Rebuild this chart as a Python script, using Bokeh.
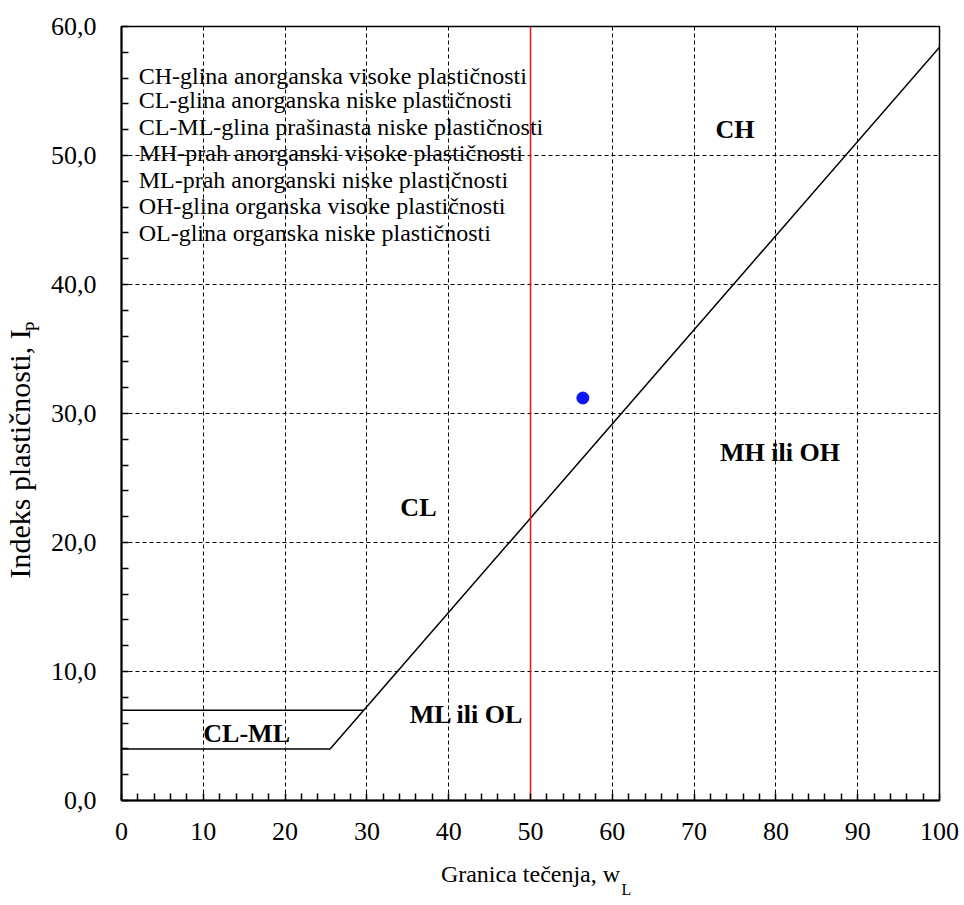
from bokeh.plotting import figure
from bokeh.models import FixedTicker, ColumnDataSource, Title
from bokeh.core.properties import value
from bokeh.embed import file_html
from bokeh.resources import INLINE

# ---- data ----
x_ticks = [0, 10, 20, 30, 40, 50, 60, 70, 80, 90, 100]
y_ticks = [0, 10, 20, 30, 40, 50, 60]
y_tick_labels = ["0,0", "10,0", "20,0", "30,0", "40,0", "50,0", "60,0"]

a_line_x = [25.5, 100]
a_line_y = [4.0, 58.4]
clml_low_x = [0, 25.5]
clml_low_y = [4.0, 4.0]
clml_up_x = [0, 29.6]
clml_up_y = [7.0, 7.0]
wl50_x = [50, 50]
wl50_y = [0, 60]

sample_wl = [56.4]
sample_ip = [31.2]

zone_names = ["CH", "MH ili OH", "CL", "ML ili OL", "CL-ML"]
zone_x = [75.0, 80.5, 36.3, 42.2, 15.3]
zone_y = [52.0, 27.0, 22.7, 6.7, 5.2]

legend_lines = [
    "CH-glina  anorganska visoke plastičnosti",
    "CL-glina  anorganska niske plastičnosti",
    "CL-ML-glina   prašinasta niske plastičnosti",
    "MH-prah anorganski visoke plastičnosti",
    "ML-prah anorganski niske plastičnosti",
    "OH-glina  organska visoke plastičnosti",
    "OL-glina  organska niske plastičnosti",
]
legend_x = [2.1] * 7
legend_y = [56.2, 54.3, 52.2, 50.2, 48.1, 46.1, 44.0]

x_title = "Granica tečenja, w"
x_title_sub = "L"
y_title = "Indeks plastičnosti, I"
y_title_sub = "P"

FONT = "Liberation Serif"

p = figure(
    frame_width=818, frame_height=774,
    x_range=(0, 100), y_range=(0, 60),
    output_backend="svg", toolbar_location=None,
    min_border_left=121, min_border_top=26,
    min_border_right=25, min_border_bottom=100,
    background_fill_color="white", border_fill_color="white",
)
p.outline_line_color = "black"
p.outline_line_width = 1.5

# grid
p.xgrid.ticker = FixedTicker(ticks=x_ticks)
p.ygrid.ticker = FixedTicker(ticks=y_ticks)
for g in (p.xgrid, p.ygrid):
    g.grid_line_color = "black"
    g.grid_line_dash = "4 3"
    g.grid_line_width = 1

# axes
minor_x = [v for v in range(0, 101, 2) if v % 10 != 0]
minor_y = [v for v in range(0, 61, 2) if v % 10 != 0]
p.xaxis.ticker = FixedTicker(ticks=x_ticks, minor_ticks=minor_x)
p.yaxis.ticker = FixedTicker(ticks=y_ticks, minor_ticks=minor_y)
p.yaxis.major_label_overrides = {t: l for t, l in zip(y_ticks, y_tick_labels)}
for ax in (p.xaxis, p.yaxis):
    ax.axis_line_color = "black"
    ax.axis_line_width = 2
    ax.major_tick_in = 7
    ax.major_tick_out = 0
    ax.minor_tick_in = 7
    ax.minor_tick_out = 0
    ax.major_tick_line_color = "black"
    ax.minor_tick_line_color = "black"
    ax.major_tick_line_width = 1.5
    ax.minor_tick_line_width = 1.5
    ax.major_label_text_font = FONT
    ax.major_label_text_font_size = "26px"
    ax.major_label_text_color = "black"
p.xaxis.major_label_standoff = 22
p.yaxis.major_label_standoff = 25

# x axis title: main text as axis label, subscript as a title
p.xaxis.axis_label = x_title
p.xaxis.axis_label_text_font = FONT
p.xaxis.axis_label_text_font_size = "24px"
p.xaxis.axis_label_text_font_style = "normal"
p.xaxis.axis_label_text_color = "black"
p.xaxis.axis_label_standoff = 18

# lines
p.line(a_line_x, a_line_y, line_color="black", line_width=1.5)
p.line(clml_low_x, clml_low_y, line_color="black", line_width=1.5)
p.line(clml_up_x, clml_up_y, line_color="black", line_width=1.5)
p.line(wl50_x, wl50_y, line_color="#e8141b", line_width=1.5)

# sample point
p.scatter(sample_wl, sample_ip, size=12, fill_color="#0a14f5", line_color="#0a14f5")

# zone labels
zsrc = ColumnDataSource(dict(x=zone_x, y=zone_y, t=zone_names))
p.text(x="x", y="y", text="t", source=zsrc, text_font=value(FONT),
       text_font_size="26px", text_font_style="bold", text_color="black",
       text_align="center", text_baseline="middle")

# legend-like text block
lsrc = ColumnDataSource(dict(x=legend_x, y=legend_y, t=legend_lines))
p.text(x="x", y="y", text="t", source=lsrc, text_font=value(FONT),
       text_font_size="24px", text_color="black",
       text_align="left", text_baseline="middle")

# subscripts and y title as side-panel titles
p.add_layout(Title(text=x_title_sub, align="left", offset=500, standoff=-46,
                   vertical_align="middle",
                   text_font=FONT, text_font_size="16px",
                   text_font_style="normal", text_color="black"), "below")
p.add_layout(Title(text=y_title_sub, align="left", offset=469, standoff=10,
                   vertical_align="bottom",
                   text_font=FONT, text_font_size="18px",
                   text_font_style="normal", text_color="black"), "left")
p.add_layout(Title(text=y_title, align="left", offset=222, standoff=-40,
                   vertical_align="bottom",
                   text_font=FONT, text_font_size="30px",
                   text_font_style="normal", text_color="black"), "left")

open("out.html", "w").write(file_html(p, INLINE))
